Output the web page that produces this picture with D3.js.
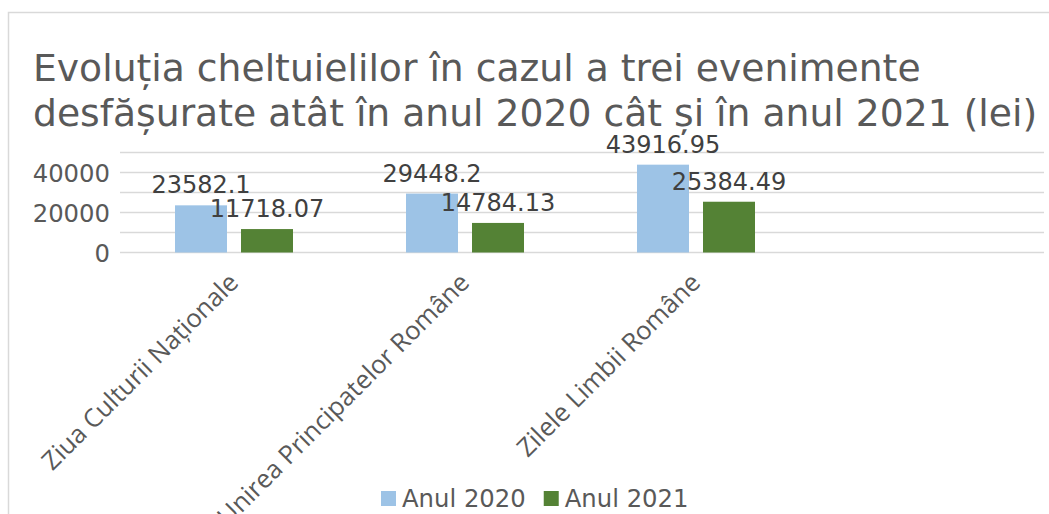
<!DOCTYPE html>
<html><head><meta charset="utf-8">
<script src="https://cdn.jsdelivr.net/npm/d3@7"></script>
<style>body{margin:0;background:#fff;} svg{display:block;font-family:"DejaVu Sans",sans-serif;}</style>
</head><body>
<svg id="c" width="1049" height="514"></svg>
<script>
const titleLines = ["Evoluția cheltuielilor în cazul a trei evenimente", "desfășurate atât în anul 2020 cât și în anul 2021 (lei)"];
const categories = ["Ziua Culturii Naționale", "Unirea Principatelor Române", "Zilele Limbii Române", ""];
const seriesNames = ["Anul 2020", "Anul 2021"];
const values2020 = [23582.1, 29448.2, 43916.95];
const values2021 = [11718.07, 14784.13, 25384.49];
const labels2020 = ["23582.1", "29448.2", "43916.95"];
const labels2021 = ["11718.07", "14784.13", "25384.49"];
const gridTicks = [0, 10000, 20000, 30000, 40000, 50000];
const tickLabels = [0, 20000, 40000];
const colors = ["#9DC3E6", "#548235"];

const svg = d3.select("#c");
svg.append("rect").attr("x", 8.5).attr("y", 12.5).attr("width", 1100).attr("height", 600)
  .attr("fill", "none").attr("stroke", "#D9D9D9").attr("stroke-width", 1.5);

const title = svg.append("text").attr("fill", "#595959").attr("font-size", 37.7);
titleLines.forEach((t, i) => title.append("tspan").attr("x", 33).attr("y", 81 + i * 45).text(t));

const x = d3.scaleBand().domain(d3.range(categories.length)).range([118.5, 1042.5]).paddingInner(0).paddingOuter(0);
const y = d3.scaleLinear().domain([0, 50000]).range([252.5, 152.5]);
const inner = d3.scaleBand().domain([0, 1]).range([x.bandwidth() / 2 - 59, x.bandwidth() / 2 + 59]).paddingInner(14 / 66);

svg.append("g").selectAll("line").data(gridTicks).join("line")
  .attr("x1", 120).attr("x2", 1044).attr("y1", d => y(d)).attr("y2", d => y(d))
  .attr("stroke", "#D9D9D9").attr("stroke-width", 1.5);

const yAxis = d3.axisLeft(y).tickValues(tickLabels).tickSize(0).tickPadding(0).tickFormat(d3.format("d"));
const ga = svg.append("g").attr("transform", "translate(110,0)").call(yAxis);
ga.select(".domain").remove();
ga.selectAll("text").attr("fill", "#595959").attr("font-size", 24.3).attr("font-family", "DejaVu Sans").attr("dy", "0.36em");

const series = [values2020, values2021];
const labs = [labels2020, labels2021];
series.forEach((vals, s) => {
  const g = svg.append("g");
  g.selectAll("rect").data(vals).join("rect")
    .attr("x", (d, i) => x(i) + inner(s)).attr("width", inner.bandwidth())
    .attr("y", d => y(d)).attr("height", d => y(0) - y(d)).attr("fill", colors[s]);
  g.selectAll("text").data(vals).join("text")
    .attr("x", (d, i) => x(i) + inner(s) + inner.bandwidth() / 2)
    .attr("y", d => y(d) - 12).attr("text-anchor", "middle")
    .attr("font-size", 24).attr("fill", "#404040")
    .text((d, i) => labs[s][i]);
});

svg.append("g").selectAll("text").data(categories.filter(c => c)).join("text")
  .attr("transform", (d, i) => `translate(${x(i) + x.bandwidth() / 2 + 6},${284}) rotate(-45)`)
  .attr("text-anchor", "end").attr("font-size", 25.5).attr("font-family", "'Open Sans', sans-serif").attr("fill", "#595959")
  .text(d => d);

const lg = svg.append("g");
let lx = 381;
seriesNames.forEach((n, i) => {
  lg.append("rect").attr("x", lx).attr("y", 491).attr("width", 15).attr("height", 15).attr("fill", colors[i]);
  const t = lg.append("text").attr("x", lx + 21).attr("y", 507).attr("font-size", 24.3).attr("fill", "#595959").text(n);
  lx += 21 + t.node().getComputedTextLength() + 18;
});
</script>
</body></html>
